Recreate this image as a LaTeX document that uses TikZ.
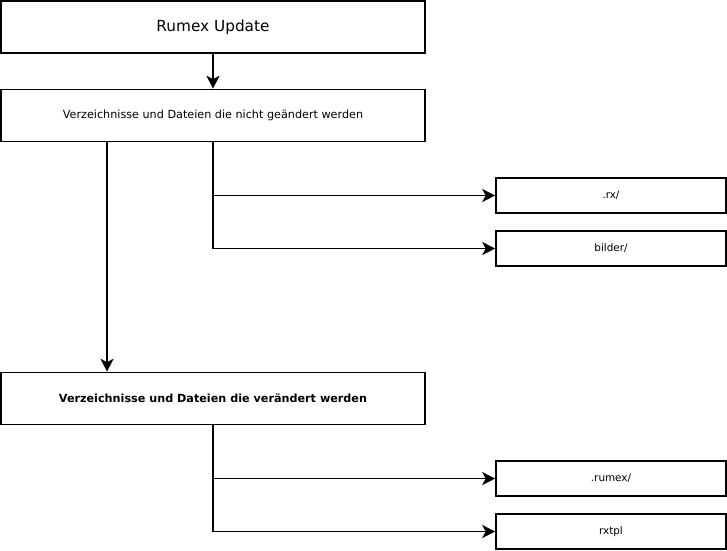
\documentclass[tikz,border=0pt]{standalone}
\usepackage{fontspec}
\setmainfont{DejaVu Sans}
\usetikzlibrary{arrows.meta}
\begin{document}
\begin{tikzpicture}[x=1pt,y=-1pt,
  box/.style={draw=black,line width=1.6pt,fill=white,inner sep=0pt,anchor=center},
  bigbox/.style={box,minimum width=424pt,minimum height=52pt},
  smallbox/.style={box,minimum width=230pt,minimum height=35pt,font=\fontsize{10.4}{12}\selectfont},
  conn/.style={line width=1.6pt,-{Stealth[length=13pt,width=13pt,inset=3.5pt]}}]
\useasboundingbox (0,0) rectangle (727,550);
\node[bigbox,font=\fontsize{15.3}{18}\selectfont] (top) at (213,27) {Rumex Update};
\node[bigbox,font=\fontsize{11.2}{13}\selectfont] (keep) at (213,115.5) {Verzeichnisse und Dateien die nicht geändert werden};
\node[bigbox,font=\bfseries\fontsize{11.2}{13}\selectfont] (change) at (213,398.5) {Verzeichnisse und Dateien die verändert werden};
\node[smallbox] (rx) at (611,195.5) {.rx/};
\node[smallbox] (bilder) at (611,248.5) {bilder/};
\node[smallbox] (rumex) at (611,478.5) {.rumex/};
\node[smallbox] (rxtpl) at (611,531.5) {rxtpl};
\draw[conn] (top.south) -- (keep.north);
\draw[conn] (keep.south) |- (rx.west);
\draw[conn] (keep.south) |- (bilder.west);
\draw[conn] (keep.south -| 107,0) -- (change.north -| 107,0);
\draw[conn] (change.south) |- (rumex.west);
\draw[conn] (change.south) |- (rxtpl.west);
\end{tikzpicture}
\end{document}
